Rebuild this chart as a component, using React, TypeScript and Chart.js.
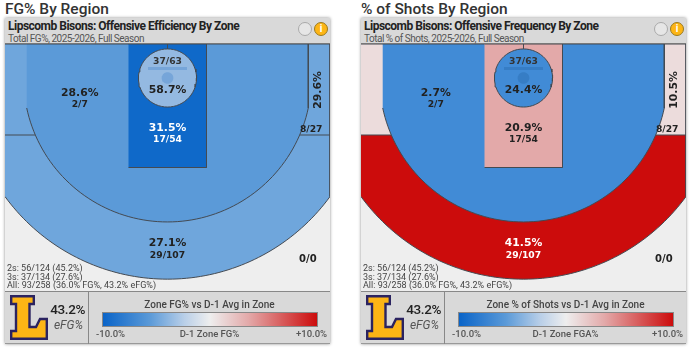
import React, { useEffect, useRef } from "react";
import { Chart, registerables } from "chart.js";

Chart.register(...registerables);

// values
const zoneKeys = ["three", "corner", "mid", "paint", "rim"];
const fgColors = ["#6fa6dc", "#6fa6dc", "#5b9ad8", "#0f69c9", "#94b9e1"];
const freqColors = ["#cc0c0c", "#ecdcdc", "#418bd6", "#e3a9a9", "#418bd6"];
const fgPct = ["27.1%", "29.6%", "28.6%", "31.5%", "58.7%"];
const freqPct = ["41.5%", "10.5%", "2.7%", "20.9%", "24.4%"];
const makes = ["29/107", "8/27", "2/7", "17/54", "37/63"];
const fgPctInk = ["#222", "#222", "#222", "#fff", "#222"];
const freqPctInk = ["#fff", "#222", "#222", "#222", "#222"];
const statLines = ["2s: 56/124 (45.2%)", "3s: 37/134 (27.6%)", "All: 93/258 (36.0% FG%, 43.2% eFG%)"];

// court geometry, in feet from the baseline centre
const COURT_W = 25;
const COURT_H = 38;
const HOOP_Y = 5.23;
const R2 = 22.146;
const R3 = 30.95;
const CORNER_X = 21.66;
const CORNER_Y = 14;
const PAINT_X = 6;
const PAINT_Y = 19;
const RIM_R = 4.47;

// label anchor points, in feet
const pctPos = [[0, 30.6], [23.2, 7.08], [-13.5, 7.55], [0, 12.9], [0, 7.1]];
const makePos = [[0, 32.5], [22.1, 13.2], [-13.5, 9.3], [0, 14.75], [0, 2.7]];
const emptyPos = [21.6, 33.1];

type P = { x: number; y: number };

function arc(r: number, fromDeg: number, toDeg: number, steps: number): P[] {
  const out: P[] = [];
  for (let i = 0; i <= steps; i++) {
    const a = ((fromDeg + ((toDeg - fromDeg) * i) / steps) * Math.PI) / 180;
    out.push({ x: r * Math.cos(a), y: HOOP_Y + r * Math.sin(a) });
  }
  return out;
}

function deg(r: number, x: number) {
  return (Math.acos(x / r) * 180) / Math.PI;
}

const threeShape: P[] = [
  { x: -COURT_W, y: 0 }, { x: COURT_W, y: 0 },
  ...arc(R3, deg(R3, COURT_W), 180 - deg(R3, COURT_W), 80),
];
const cornerShape: P[] = [
  { x: -COURT_W, y: 0 }, { x: COURT_W, y: 0 }, { x: COURT_W, y: CORNER_Y }, { x: -COURT_W, y: CORNER_Y },
];
const midShape: P[] = [
  { x: -CORNER_X, y: 0 }, { x: CORNER_X, y: 0 },
  ...arc(R2, deg(R2, CORNER_X), 180 - deg(R2, CORNER_X), 80),
];
const paintShape: P[] = [
  { x: -PAINT_X, y: 0 }, { x: PAINT_X, y: 0 }, { x: PAINT_X, y: PAINT_Y }, { x: -PAINT_X, y: PAINT_Y },
];
const rimShape: P[] = arc(RIM_R, 0, 360, 60);
const shapes = [threeShape, cornerShape, midShape, paintShape, rimShape];

const markShapes: { pts: P[]; w: number }[] = [
  { pts: [{ x: 0, y: 0 }, { x: 0, y: 0.7 }], w: 1 },
  { pts: [{ x: -3, y: 3.75 }, { x: 3, y: 3.75 }], w: 3 },
];
const hoopShape: P[] = arc(0.9, 0, 360, 30);

const labelPlugin = {
  id: "zoneLabels",
  afterDatasetsDraw(chart: any) {
    const { ctx, scales } = chart;
    const t = chart.options.plugins.zoneLabels;
    const put = (s: string, p: number[], font: string, ink: string, rot = false) => {
      ctx.save();
      ctx.translate(scales.x.getPixelForValue(p[0]), scales.y.getPixelForValue(p[1]));
      if (rot) ctx.rotate(-Math.PI / 2);
      ctx.font = font;
      ctx.fillStyle = ink;
      ctx.textAlign = "center";
      ctx.textBaseline = "middle";
      ctx.fillText(s, 0, 0);
      ctx.restore();
    };
    const big = 'bold 10.8px "DejaVu Sans"';
    const small = 'bold 9.2px "DejaVu Sans"';
    t.pct.forEach((s: string, i: number) => put(s, pctPos[i], big, t.ink[i], zoneKeys[i] === "corner"));
    makes.forEach((s, i) => {
      const ink = zoneKeys[i] === "corner" ? "#222" : zoneKeys[i] === "rim" ? "#333" : t.ink[i];
      put(s, makePos[i], small, ink);
    });
    put("0/0", emptyPos, 'bold 10px "DejaVu Sans"', "#222");
  },
};

function Court({ colors, pct, ink }: { colors: string[]; pct: string[]; ink: string[] }) {
  const ref = useRef<HTMLCanvasElement>(null);
  useEffect(() => {
    if (!ref.current) return;
    const line = "#444a52";
    const datasets: any[] = shapes.map((pts, i) => ({
      label: zoneKeys[i],
      data: pts,
      showLine: true,
      fill: "shape",
      backgroundColor: colors[i],
      borderColor: line,
      borderWidth: 1,
      pointRadius: 0,
      order: 20 - i,
    }));
    const markColor = colors === fgColors ? "rgba(110,160,215,0.8)" : "rgba(50,120,190,0.7)";
    datasets.push({
      label: "hoop",
      data: hoopShape,
      showLine: true,
      fill: "shape",
      backgroundColor: markColor,
      borderColor: "transparent",
      borderWidth: 0,
      pointRadius: 0,
      order: 4,
    });
    markShapes.forEach((m, i) =>
      datasets.push({
        label: "mark" + i,
        data: m.pts,
        showLine: true,
        borderColor: i === 0 ? line : markColor,
        borderWidth: m.w,
        pointRadius: 0,
        order: 3 - i,
      })
    );
    const chart = new Chart(ref.current, {
      type: "scatter",
      data: { datasets },
      options: {
        animation: false,
        responsive: false,
        layout: { padding: 0 },
        scales: {
          x: { type: "linear", display: false, min: -COURT_W, max: COURT_W },
          y: { type: "linear", display: false, min: 0, max: COURT_H, reverse: true },
        },
        plugins: {
          legend: { display: false },
          tooltip: { enabled: false },
          zoneLabels: { pct, ink },
        } as any,
      },
      plugins: [labelPlugin],
    });
    return () => chart.destroy();
  }, [colors, pct, ink]);
  return <canvas ref={ref} width={325} height={247} style={{ position: "absolute", left: 0, top: 0, display: "block" }} />;
}

function Abs({ x, y, w, style, children }: any) {
  return (
    <div style={{ position: "absolute", left: x, top: y, width: w, whiteSpace: "nowrap", ...style }}>{children}</div>
  );
}

function Panel(props: {
  left: number; heading: string; title: string; sub: string; legend: string; axis: string;
  colors: string[]; pct: string[]; ink: string[];
}) {
  const { left, heading, title, sub, legend, axis, colors, pct, ink } = props;
  const rob = "Roboto, sans-serif";
  return (
    <div style={{ position: "absolute", left, top: 0, width: 335, height: 352, fontFamily: rob }}>
      <Abs x={0} y={0} style={{ fontSize: 15.5, fontWeight: 500, color: "#333", lineHeight: "19px" }}>{heading}</Abs>
      <div style={{ position: "absolute", left: 0, top: 18, width: 325, height: 326, boxShadow: "0 0 3px rgba(0,0,0,0.45)", background: "#d9d9d9" }} />
      <Abs x={0} y={18} w={325} style={{ height: 25, background: "#d9d9d9", borderBottom: "1px solid #777" }} />
      <Abs x={3} y={19} style={{ fontSize: 12, fontWeight: 700, color: "#222", lineHeight: "15px", letterSpacing: -0.5 }}>{title}</Abs>
      <Abs x={3} y={32} style={{ fontSize: 10, color: "#555", lineHeight: "13px", letterSpacing: -0.5 }}>{sub}</Abs>
      <div style={{ position: "absolute", left: 293, top: 22, width: 12, height: 12, borderRadius: 7, background: "#e6e6e6", border: "1px solid #aaa" }} />
      <div style={{ position: "absolute", left: 309, top: 22, width: 12, height: 12, borderRadius: 7, background: "#fdb515", border: "1px solid #9a7a20", color: "#fff", fontSize: 10, fontWeight: 700, textAlign: "center", lineHeight: "12px" }}>i</div>
      <div style={{ position: "absolute", left: 0, top: 44, width: 325, height: 247, background: "#eeeeee" }}>
        <Court colors={colors} pct={pct} ink={ink} />
        {statLines.map((s, i) => (
          <Abs key={s} x={2} y={220 + i * 8.7} style={{ fontSize: 9, color: "#444", lineHeight: "9px" }}>{s}</Abs>
        ))}
      </div>
      <Abs x={0} y={291} w={325} style={{ height: 53, background: "#d9d9d9", borderTop: "1px solid #888", borderBottom: "1px solid #999", boxSizing: "border-box" }} />
      <div style={{ position: "absolute", left: 83, top: 292, width: 1, height: 52, background: "#888" }} />
      <svg style={{ position: "absolute", left: 5, top: 295 }} width="38" height="45" viewBox="0 0 38 45">
        <path d="M1.2 1.2 H23.8 V9 H19.5 V32 H26 L30 24 H36.8 V43.8 H1.2 V36 H6 V9 H1.2 Z" fill="#fdb515" stroke="#2b2360" strokeWidth="2.4" strokeLinejoin="miter" />
      </svg>
      <Abs x={44} y={302} w={36} style={{ fontSize: 13.5, fontWeight: 500, color: "#222", textAlign: "right", lineHeight: "15px", letterSpacing: -0.4 }}>43.2%</Abs>
      <Abs x={44} y={318} w={34} style={{ fontSize: 12, fontStyle: "italic", color: "#555", textAlign: "right", lineHeight: "14px" }}>eFG%</Abs>
      <Abs x={84} y={298} w={241} style={{ fontSize: 10, fontWeight: 500, color: "#444", textAlign: "center", lineHeight: "13px" }}>{legend}</Abs>
      <div style={{ position: "absolute", left: 97, top: 312, width: 214, height: 13, border: "1px solid #888", background: "linear-gradient(90deg,#0a64c8 0%,#5b9ad8 22%,#b9cfe8 38%,#eeeeee 50%,#e3a9a9 68%,#cc0c0c 100%)" }} />
      <Abs x={91} y={328} style={{ fontSize: 9.5, fontWeight: 500, color: "#555", lineHeight: "12px" }}>-10.0%</Abs>
      <Abs x={84} y={328} w={241} style={{ fontSize: 9.5, fontWeight: 500, color: "#555", textAlign: "center", lineHeight: "12px" }}>{axis}</Abs>
      <Abs x={291} y={328} style={{ fontSize: 9.5, fontWeight: 500, color: "#555", lineHeight: "12px" }}>+10.0%</Abs>
    </div>
  );
}

export default function App() {
  return (
    <div style={{ position: "absolute", left: 0, top: 0, width: 695, height: 352, background: "#fff", overflow: "hidden" }}>
      <Panel left={5} heading="FG% By Region" title="Lipscomb Bisons: Offensive Efficiency By Zone" sub="Total FG%, 2025-2026, Full Season"
        legend="Zone FG% vs D-1 Avg in Zone" axis="D-1 Zone FG%" colors={fgColors} pct={fgPct} ink={fgPctInk} />
      <Panel left={361} heading="% of Shots By Region" title="Lipscomb Bisons: Offensive Frequency By Zone" sub="Total % of Shots, 2025-2026, Full Season"
        legend="Zone % of Shots vs D-1 Avg in Zone" axis="D-1 Zone FGA%" colors={freqColors} pct={freqPct} ink={freqPctInk} />
    </div>
  );
}
